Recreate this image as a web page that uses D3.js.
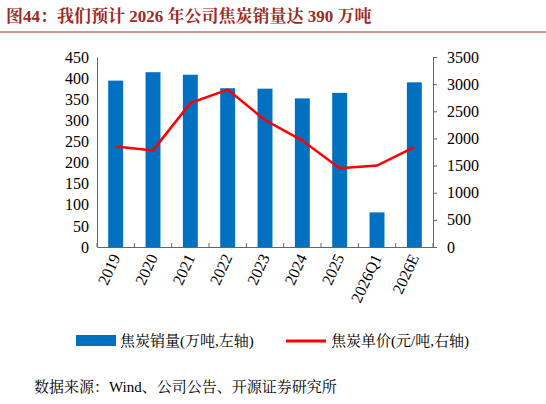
<!DOCTYPE html>
<html><head><meta charset="utf-8">
<script src="https://cdn.jsdelivr.net/npm/d3@7"></script>
<style>body{margin:0;background:#fff}text{font-family:"Liberation Serif","Noto Serif CJK SC","Noto Sans CJK SC",serif}</style>
</head><body><svg id="c" width="546" height="404"></svg>
<script>
const categories = ["2019","2020","2021","2022","2023","2024","2025","2026Q1","2026E"];
const sales = [394, 414, 408, 376, 375, 352, 365, 82, 390];
const price = [1850, 1780, 2650, 2900, 2340, 1960, 1450, 1500, 1840];
const leftTicks = [0,50,100,150,200,250,300,350,400,450];
const rightTicks = [0,500,1000,1500,2000,2500,3000,3500];

const svg = d3.select("#c");
const m = {l:97, r:433, t:57, b:247};

svg.append("text").attr("x", 6).attr("y", 22).attr("fill", "#a0281e")
  .attr("font-size", 17).attr("font-weight", "bold")
  .text("图44：我们预计 2026 年公司焦炭销量达 390 万吨");
svg.append("line").attr("x1", 0).attr("x2", 546).attr("y1", 32).attr("y2", 32)
  .attr("stroke", "#a0281e").attr("stroke-width", 1);

const x = d3.scaleBand().domain(categories).range([m.l, m.r]).paddingInner(0.6).paddingOuter(0.3);
const yL = d3.scaleLinear().domain([0, 450]).range([m.b, m.t]);
const yR = d3.scaleLinear().domain([0, 3500]).range([m.b, m.t]);

svg.append("g").selectAll("rect").data(sales).join("rect")
  .attr("x", (d, i) => x(categories[i])).attr("width", x.bandwidth())
  .attr("y", d => yL(d)).attr("height", d => m.b - yL(d)).attr("fill", "#0070c0");

svg.append("path").datum(price)
  .attr("d", d3.line().x((d, i) => x(categories[i]) + x.bandwidth()/2).y(d => yR(d)))
  .attr("fill", "none").attr("stroke", "#ff0000").attr("stroke-width", 2.5);

const gl = svg.append("g").attr("transform", `translate(${m.l},0)`)
  .call(d3.axisLeft(yL).tickValues(leftTicks).tickSize(0).tickPadding(8));
const gr = svg.append("g").attr("transform", `translate(${m.r},0)`)
  .call(d3.axisRight(yR).tickValues(rightTicks).tickFormat(d3.format("d")).tickSize(4).tickPadding(10));
const step = (m.r - m.l) / categories.length;
const gx = svg.append("g").attr("transform", `translate(0,${m.b})`)
  .call(d3.axisBottom(x).tickSize(0).tickPadding(6));
gx.selectAll(".tick line").remove();
gx.selectAll(".tick text").attr("transform", "translate(0,8) rotate(-65)").attr("text-anchor", "end")
  .attr("dx", 0).attr("dy", "0.35em").attr("x", 0).attr("y", 0);
svg.append("g").selectAll("line").data(d3.range(categories.length + 1)).join("line")
  .attr("x1", i => m.l + i * step).attr("x2", i => m.l + i * step)
  .attr("y1", m.b).attr("y2", m.b - 4).attr("stroke", "#666");
[gl, gr, gx].forEach(g => {
  g.selectAll("text").attr("font-size", 16).attr("fill", "#000").attr("font-family", "Liberation Serif");
  g.selectAll(".domain, .tick line").attr("stroke", "#666");
});

const lg = svg.append("g").attr("font-size", 15);
lg.append("rect").attr("x", 76).attr("y", 335).attr("width", 40).attr("height", 11).attr("fill", "#0070c0");
lg.append("text").attr("x", 120).attr("y", 346).text("焦炭销量(万吨,左轴)");
lg.append("line").attr("x1", 286).attr("x2", 326).attr("y1", 341).attr("y2", 341).attr("stroke", "#f00").attr("stroke-width", 3);
lg.append("text").attr("x", 331).attr("y", 346).text("焦炭单价(元/吨,右轴)");

svg.append("text").attr("x", 34).attr("y", 392).attr("font-size", 15).text("数据来源：Wind、公司公告、开源证券研究所");
</script></body></html>
